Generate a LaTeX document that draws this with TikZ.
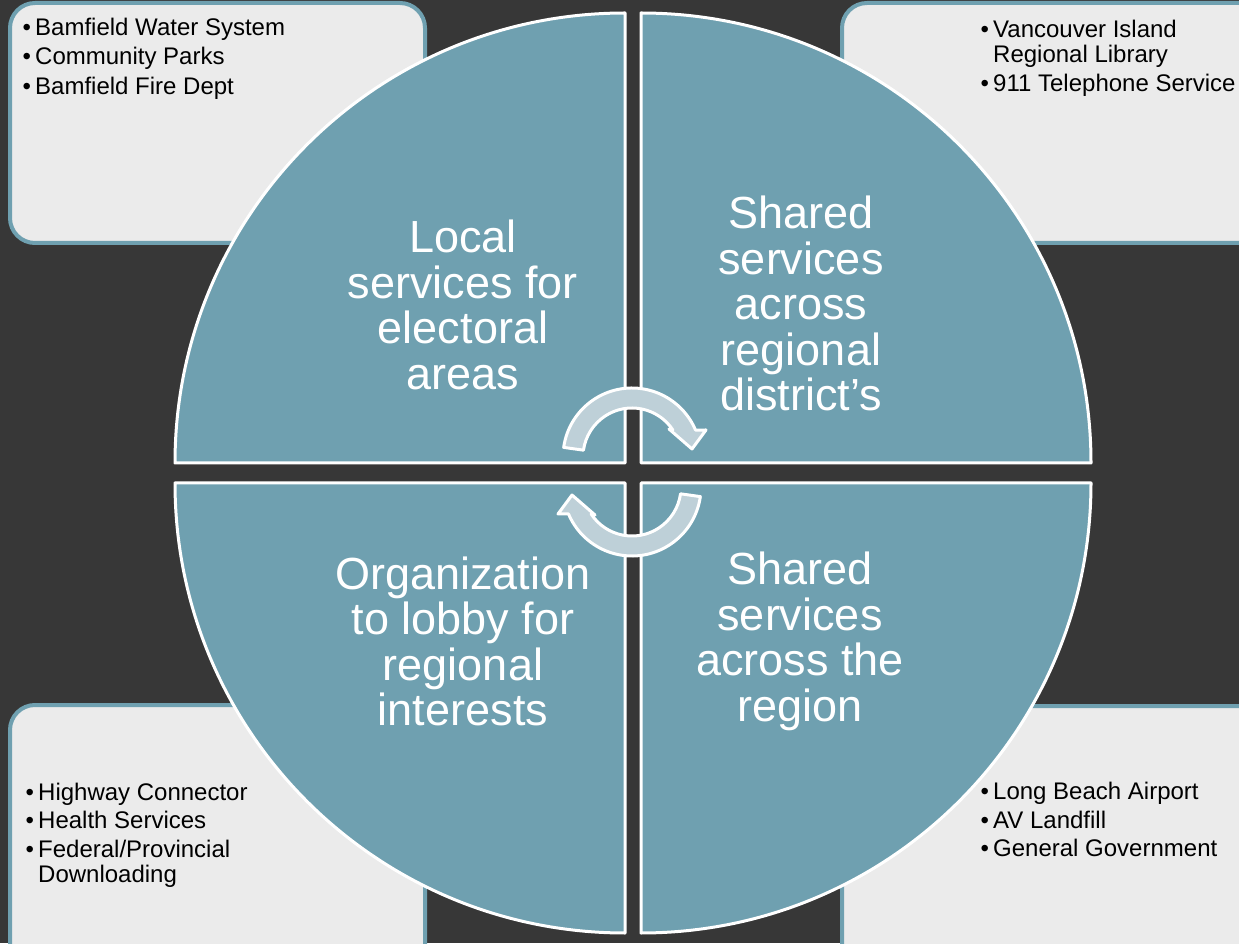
\documentclass[tikz,border=0pt]{standalone}
\usepackage{fontspec}
\setmainfont{Liberation Sans}
\definecolor{bgdark}{RGB}{55,55,55}
\definecolor{tealq}{RGB}{111,160,176}
\definecolor{boxfill}{RGB}{235,235,235}
\definecolor{arrowfill}{RGB}{190,208,216}
\newcommand\bul{\makebox[12.5pt][l]{•}}
\newcommand\ind{\hspace*{12.5pt}}
\begin{document}
\begin{tikzpicture}[x=1pt,y=1pt,
  infobox/.style={draw=tealq, line width=4pt, fill=boxfill, rounded corners=25pt},
  quad/.style={fill=tealq, draw=white, line width=3pt, line join=round},
  quadtext/.style={text=white, align=center, font=\fontsize{45}{45.5}\selectfont, inner sep=0pt},
  listtext/.style={anchor=base west, inner sep=0pt, font=\fontsize{24}{25.5}\selectfont, text=black},
  cycarrow/.style={fill=arrowfill, draw=white, line width=3pt, line join=round}]
\useasboundingbox (0,0) rectangle (1239,943);
\clip (0,0) rectangle (1239,943);
\fill[bgdark] (0,0) rectangle (1239,943);
% info boxes
\path[infobox] (10,700) rectangle (425,940);
\path[infobox] (842,700) rectangle (1270,940);
\path[infobox] (10,-30) rectangle (425,238);
\path[infobox] (842,-30) rectangle (1270,237);
% quadrants
\path[quad] (625,480) -- (175,480) arc[start angle=180,end angle=90,radius=450] -- cycle;
\path[quad] (641,480) -- (641,930) arc[start angle=90,end angle=0,radius=450] -- cycle;
\path[quad] (625,460) -- (175,460) arc[start angle=180,end angle=270,radius=450] -- cycle;
\path[quad] (641,460) -- (1091,460) arc[start angle=0,end angle=-90,radius=450] -- cycle;
% quadrant texts
\node[quadtext] (tl) at (463,638) {Local\\services for\\electoral\\areas};
\node[quadtext] (tr) at (801,639.5) {Shared\\services\\across\\regional\\district’s};
\node[quadtext] (bl) at (463,301.5) {Organization\\to lobby for\\regional\\interests};
\node[quadtext] (br) at (800,301.5) {Shared\\services\\across the\\region};
% cycle arrows
\begin{scope}[shift={(632,486)}]
\draw[cycarrow] (172:49) -- (172:69) arc[start angle=172,end angle=23,radius=69] -- (74,27) -- (60,8) -- (37,28) -- (33.4:49) arc[start angle=33.4,end angle=172,radius=49] -- cycle;
\end{scope}
\begin{scope}[shift={(632,456)}, rotate=180]
\draw[cycarrow] (172:49) -- (172:69) arc[start angle=172,end angle=23,radius=69] -- (74,27) -- (60,8) -- (37,28) -- (33.4:49) arc[start angle=33.4,end angle=172,radius=49] -- cycle;
\end{scope}
% lists
\node[listtext] (tllist) at (22.5,907.3) {\begin{tabular}[t]{@{}l@{}}\bul Bamfield Water System\\[3.8pt]\bul Community Parks\\[3.8pt]\bul Bamfield Fire Dept\end{tabular}};
\node[listtext] (trlist) at (980.5,905.5) {\begin{tabular}[t]{@{}l@{}}\bul Vancouver Island\\\ind Regional Library\\[2.8pt]\bul 911 Telephone Service\end{tabular}};
\node[listtext] (bllist) at (25.5,143) {\begin{tabular}[t]{@{}l@{}}\bul Highway Connector\\[3pt]\bul Health Services\\[3pt]\bul Federal/Provincial\\\ind Downloading\end{tabular}};
\node[listtext] (brlist) at (980.5,143.7) {\begin{tabular}[t]{@{}l@{}}\bul Long Beach Airport\\[3.3pt]\bul AV Landfill\\[3pt]\bul General Government\end{tabular}};
\end{tikzpicture}
\end{document}
